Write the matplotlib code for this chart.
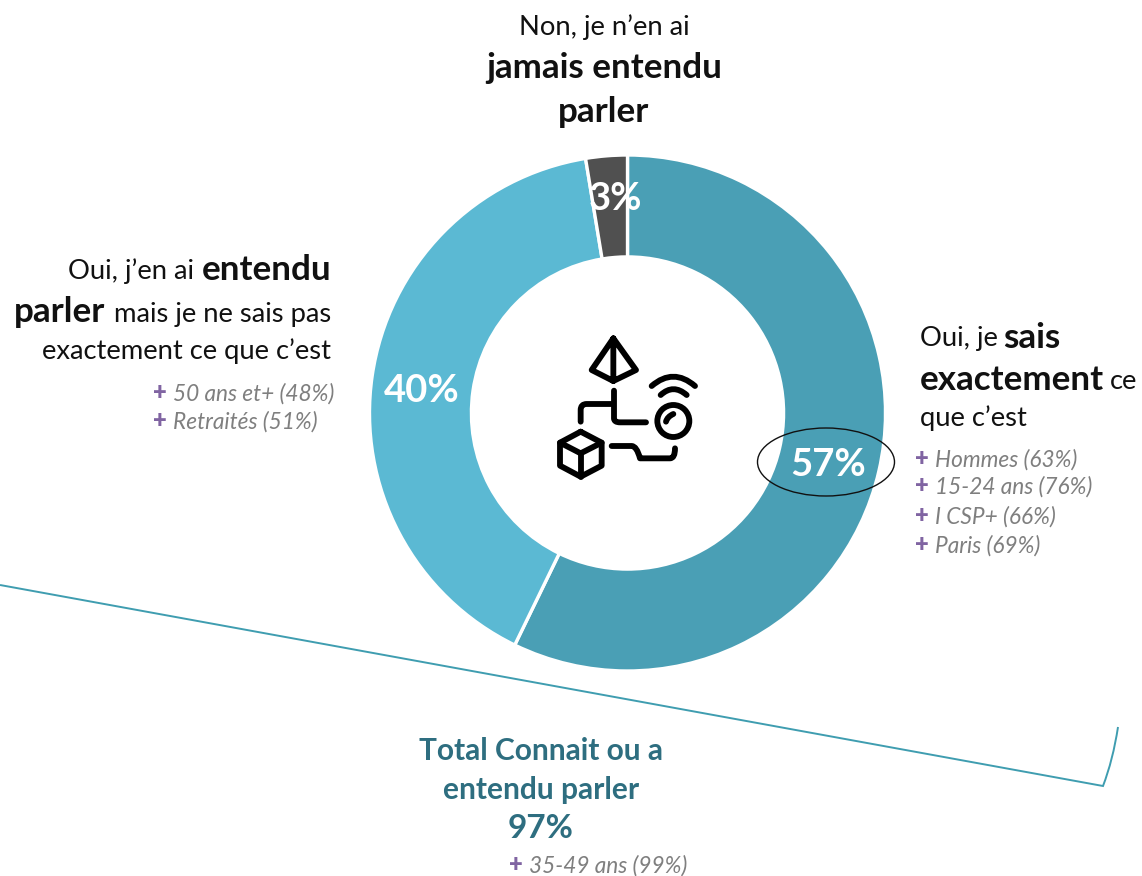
import matplotlib
matplotlib.use("Agg")
import matplotlib.pyplot as plt
from matplotlib.patches import Ellipse, PathPatch
from matplotlib.path import Path

plt.rcParams['font.family'] = ['Lato', 'DejaVu Sans']

# data
values = [57.2, 40.2, 2.6]
colors = ['#4A9FB5', '#5BB9D3', '#505050']
pct_labels = ['57%', '40%', '3%']
total_label = '97%'
right_subs = ['Hommes (63%)', '15-24 ans (76%)', 'I CSP+ (66%)', 'Paris (69%)']
left_subs = ['50 ans et+ (48%)', 'Retraités (51%)']
bottom_subs = ['35-49 ans (99%)']

W, H = 1142, 876
fig = plt.figure(figsize=(W / 100, H / 100), dpi=100)

# background axes in pixel coords, for the text and annotations
ax = fig.add_axes([0, 0, 1, 1])
ax.set_xlim(0, W)
ax.set_ylim(H, 0)
ax.axis('off')

# donut
cx, cy, r = 627.5, 413, 258
pie_ax = fig.add_axes([(cx - r) / W, 1 - (cy + r) / H, 2 * r / W, 2 * r / H])
pie_ax.pie(values, colors=colors, startangle=90, counterclock=False, radius=1,
           wedgeprops=dict(width=0.395, edgecolor='white', linewidth=2.4))
pie_ax.set_xlim(-1, 1)
pie_ax.set_ylim(-1, 1)
pie_ax.patch.set_alpha(0)

# overlay for things on top of the donut
top = fig.add_axes([0, 0, 1, 1])
top.set_xlim(0, W)
top.set_ylim(H, 0)
top.axis('off')
top.patch.set_alpha(0)

BLACK = '#111111'
TEAL = '#2E6E80'
GRAY = '#7F7F7F'
PURPLE = '#8064A2'
FS = 19.7
FB = 25.2


def txt(x, y, s, size=FS, bold=False, ha='left', color=BLACK, italic=False):
    top.text(x, y + 1.5, s, fontsize=size, ha=ha, va='center', color=color,
             fontweight='bold' if bold else 'normal',
             fontstyle='italic' if italic else 'normal')


# percentages
txt(828, 463, pct_labels[0], 27.5, True, 'center', 'white')
txt(422, 389, pct_labels[1], 27.5, True, 'center', 'white')
txt(615, 198, pct_labels[2], 27.5, True, 'center', 'white')

# top label
txt(604, 26, 'Non, je n’en ai', FS, False, 'center')
txt(604, 66, 'jamais entendu', FB, True, 'center')
txt(604, 110, 'parler', FB, True, 'center')

# left label
txt(331, 268, 'entendu', FB, True, 'right')
txt(194, 270, 'Oui, j’en ai', FS, False, 'right')
txt(14, 311, 'parler', FB, True)
txt(331, 313, 'mais je ne sais pas', FS, False, 'right')
txt(331, 350, 'exactement ce que c’est', FS, False, 'right')

# right label
txt(920, 337, 'Oui, je', FS)
txt(1003, 336, 'sais', FB, True)
txt(920, 378, 'exactement', FB, True)
txt(1110, 380, 'ce', FS)
txt(920, 417, 'que c’est', FS)

# bottom label
txt(541, 749, 'Total Connait ou a', 21.5, True, 'center', TEAL)
txt(541, 788, 'entendu parler', 21.5, True, 'center', TEAL)
txt(541, 827, total_label, 24, True, 'center', TEAL)


def sub(x, y, s):
    top.text(x, y + 1, '+', fontsize=17, fontweight='heavy', color=PURPLE, ha='left', va='center')
    txt(x + 20, y, s, 16.3, False, 'left', GRAY, True)


for s, y in zip(right_subs, [458, 485, 515, 544]):
    sub(915, y, s)
for s, y in zip(left_subs, [392, 420]):
    sub(153, y, s)
for s in bottom_subs:
    sub(509, 864, s)

# ellipse round the 57%
top.add_patch(Ellipse((826, 462), 137, 68, fill=False, edgecolor='#111111', linewidth=1))

# bracket under the donut
br = Path([(0, 585), (1103, 786), (1113, 760), (1118, 727)],
          [Path.MOVETO, Path.LINETO, Path.CURVE3, Path.CURVE3])
top.add_patch(PathPatch(br, fill=False, edgecolor='#3F9DB0', linewidth=1.4))

# icon, traced in zoomed pixel coordinates
M, L, C = Path.MOVETO, Path.LINETO, Path.CURVE3
icon = [
    ([(220, 55), (288, 150), (220, 183), (155, 150), (220, 55), (220, 183)], [M, L, L, L, L, L]),
    ([(222, 212), (222, 295), (222, 307), (240, 307), (318, 307)], [M, L, C, C, L]),
    ([(218, 252), (140, 252), (122, 252), (122, 270), (122, 305)], [M, L, C, C, L]),
    ([(335, 198), (400, 142), (465, 198)], [M, C, C]),
    ([(362, 225), (400, 190), (440, 225)], [M, C, C]),
    ([(378, 305), (382, 290), (400, 282)], [M, C, C]),
    ([(122, 335), (185, 368), (185, 437), (122, 470), (60, 437), (60, 368), (122, 335)],
     [M, L, L, L, L, L, L]),
    ([(60, 368), (122, 400), (185, 368)], [M, L, L]),
    ([(122, 400), (122, 470)], [M, L]),
    ([(215, 378), (275, 378), (290, 378), (300, 415), (390, 415), (405, 415), (405, 385)],
     [M, L, C, C, L, C, C]),
]
for pts, codes in icon:
    px = [(540 + x / 3, 320 + y / 3) for x, y in pts]
    top.add_patch(PathPatch(Path(px, codes), fill=False, edgecolor='black', linewidth=4.2,
                            capstyle='round', joinstyle='round'))
top.add_patch(Ellipse((540 + 400 / 3, 320 + 303 / 3), 32, 32, fill=False, edgecolor='black', linewidth=4.2))

fig.savefig('out.png', dpi=100, facecolor='white')
